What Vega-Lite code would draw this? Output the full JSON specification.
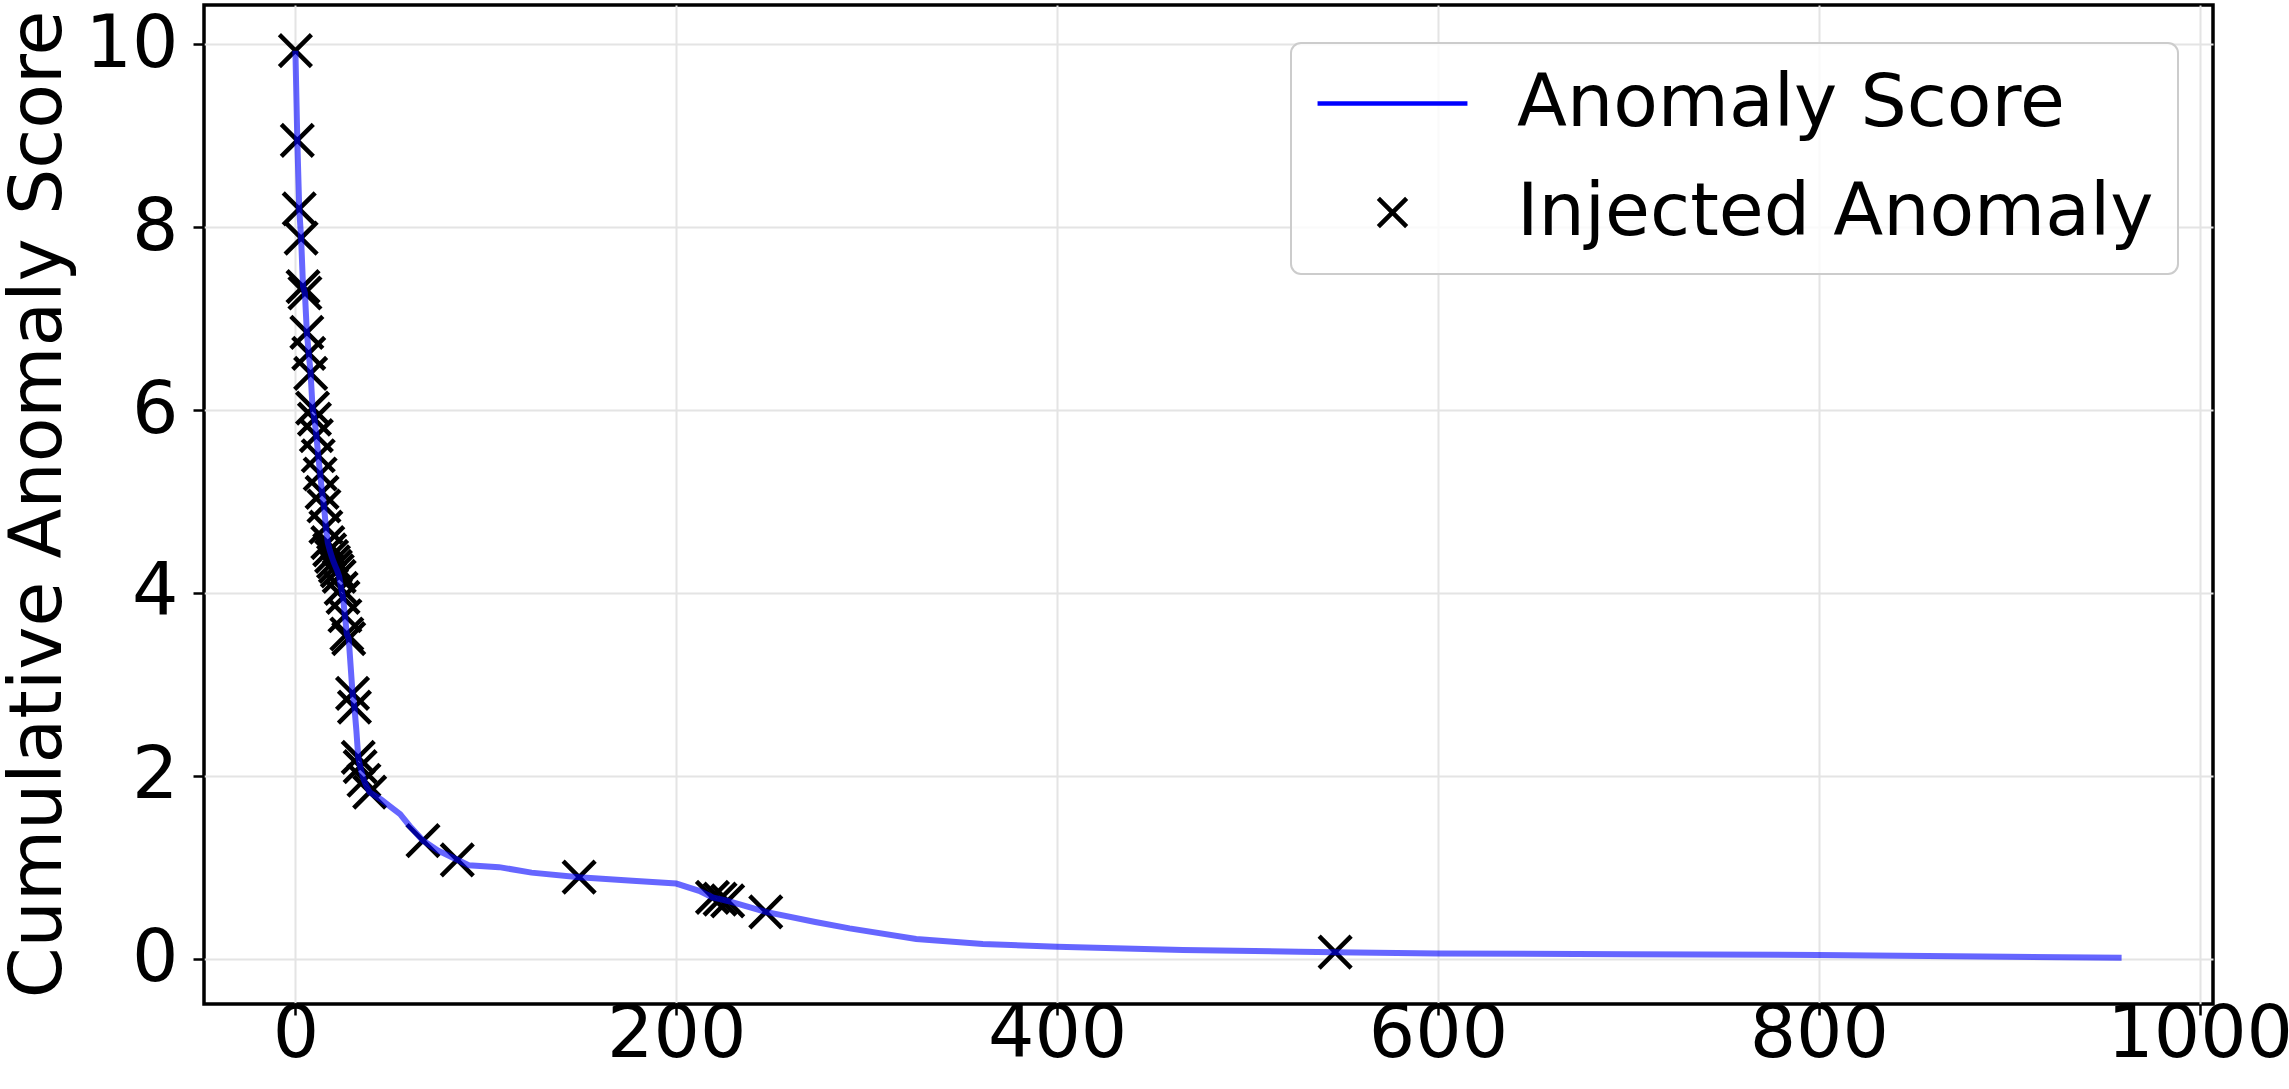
{
  "$schema": "https://vega.github.io/schema/vega-lite/v6.json",
  "width": 2009,
  "height": 999,
  "autosize": {"type": "none"},
  "padding": {"left": 204, "top": 5, "right": 76, "bottom": 85},
  "background": "white",
  "config": {
    "font": "DejaVu Sans",
    "view": {"stroke": "black", "strokeWidth": 3.5},
    "axis": {
      "domain": false,
      "grid": true,
      "gridColor": "#e4e4e4",
      "gridWidth": 2,
      "tickColor": "black",
      "tickWidth": 2.5,
      "tickSize": 11,
      "labelFont": "DejaVu Sans",
      "labelFontSize": 73,
      "labelColor": "black",
      "labelLimit": 600,
      "labelOverlap": false,
      "labelFlush": false,
      "titleFont": "DejaVu Sans",
      "titleFontSize": 73,
      "titleFontWeight": "normal",
      "titleColor": "black"
    },
    "legend": {
      "orient": "none",
      "legendX": 1087,
      "legendY": 38,
      "padding": 24,
      "fillColor": "rgba(255,255,255,0.8)",
      "strokeColor": "#cccccc",
      "strokeWidth": 2,
      "cornerRadius": 10,
      "labelFont": "DejaVu Sans",
      "labelFontSize": 73,
      "labelColor": "black",
      "labelLimit": 1000,
      "symbolSize": 800,
      "symbolStrokeWidth": 4.5,
      "symbolOffset": 41,
      "labelOffset": 88,
      "rowPadding": 35
    }
  },
  "datasets": {
    "scores": [
      {"rank": 0, "score": 9.93, "series": "Anomaly Score"},
      {"rank": 1, "score": 8.95, "series": "Anomaly Score"},
      {"rank": 2, "score": 8.2, "series": "Anomaly Score"},
      {"rank": 3, "score": 7.88, "series": "Anomaly Score"},
      {"rank": 4, "score": 7.35, "series": "Anomaly Score"},
      {"rank": 5, "score": 7.28, "series": "Anomaly Score"},
      {"rank": 6, "score": 6.85, "series": "Anomaly Score"},
      {"rank": 7, "score": 6.62, "series": "Anomaly Score"},
      {"rank": 8, "score": 6.4, "series": "Anomaly Score"},
      {"rank": 9, "score": 6.02, "series": "Anomaly Score"},
      {"rank": 10, "score": 5.9, "series": "Anomaly Score"},
      {"rank": 11, "score": 5.72, "series": "Anomaly Score"},
      {"rank": 12, "score": 5.5, "series": "Anomaly Score"},
      {"rank": 13, "score": 5.3, "series": "Anomaly Score"},
      {"rank": 14, "score": 5.1, "series": "Anomaly Score"},
      {"rank": 15, "score": 4.95, "series": "Anomaly Score"},
      {"rank": 16, "score": 4.72, "series": "Anomaly Score"},
      {"rank": 17, "score": 4.55, "series": "Anomaly Score"},
      {"rank": 18, "score": 4.47, "series": "Anomaly Score"},
      {"rank": 19, "score": 4.4, "series": "Anomaly Score"},
      {"rank": 20, "score": 4.34, "series": "Anomaly Score"},
      {"rank": 21, "score": 4.29, "series": "Anomaly Score"},
      {"rank": 22, "score": 4.24, "series": "Anomaly Score"},
      {"rank": 23, "score": 4.18, "series": "Anomaly Score"},
      {"rank": 24, "score": 4.05, "series": "Anomaly Score"},
      {"rank": 25, "score": 3.95, "series": "Anomaly Score"},
      {"rank": 26, "score": 3.75, "series": "Anomaly Score"},
      {"rank": 27, "score": 3.55, "series": "Anomaly Score"},
      {"rank": 28, "score": 3.5, "series": "Anomaly Score"},
      {"rank": 29, "score": 3.2, "series": "Anomaly Score"},
      {"rank": 30, "score": 2.9, "series": "Anomaly Score"},
      {"rank": 31, "score": 2.75, "series": "Anomaly Score"},
      {"rank": 32, "score": 2.5, "series": "Anomaly Score"},
      {"rank": 33, "score": 2.2, "series": "Anomaly Score"},
      {"rank": 34, "score": 2.1, "series": "Anomaly Score"},
      {"rank": 35, "score": 2.02, "series": "Anomaly Score"},
      {"rank": 36, "score": 1.95, "series": "Anomaly Score"},
      {"rank": 37, "score": 1.9, "series": "Anomaly Score"},
      {"rank": 38, "score": 1.86, "series": "Anomaly Score"},
      {"rank": 39, "score": 1.82, "series": "Anomaly Score"},
      {"rank": 45, "score": 1.74, "series": "Anomaly Score"},
      {"rank": 50, "score": 1.66, "series": "Anomaly Score"},
      {"rank": 55, "score": 1.58, "series": "Anomaly Score"},
      {"rank": 60, "score": 1.45, "series": "Anomaly Score"},
      {"rank": 67, "score": 1.29, "series": "Anomaly Score"},
      {"rank": 75, "score": 1.18, "series": "Anomaly Score"},
      {"rank": 85, "score": 1.08, "series": "Anomaly Score"},
      {"rank": 91, "score": 1.02, "series": "Anomaly Score"},
      {"rank": 107, "score": 1.0, "series": "Anomaly Score"},
      {"rank": 124, "score": 0.94, "series": "Anomaly Score"},
      {"rank": 149, "score": 0.89, "series": "Anomaly Score"},
      {"rank": 177, "score": 0.85, "series": "Anomaly Score"},
      {"rank": 200, "score": 0.82, "series": "Anomaly Score"},
      {"rank": 212, "score": 0.74, "series": "Anomaly Score"},
      {"rank": 219, "score": 0.67, "series": "Anomaly Score"},
      {"rank": 223, "score": 0.65, "series": "Anomaly Score"},
      {"rank": 227, "score": 0.63, "series": "Anomaly Score"},
      {"rank": 247, "score": 0.51, "series": "Anomaly Score"},
      {"rank": 273, "score": 0.4, "series": "Anomaly Score"},
      {"rank": 291, "score": 0.33, "series": "Anomaly Score"},
      {"rank": 326, "score": 0.215, "series": "Anomaly Score"},
      {"rank": 361, "score": 0.16, "series": "Anomaly Score"},
      {"rank": 400, "score": 0.13, "series": "Anomaly Score"},
      {"rank": 466, "score": 0.095, "series": "Anomaly Score"},
      {"rank": 527, "score": 0.075, "series": "Anomaly Score"},
      {"rank": 546, "score": 0.07, "series": "Anomaly Score"},
      {"rank": 600, "score": 0.055, "series": "Anomaly Score"},
      {"rank": 700, "score": 0.048, "series": "Anomaly Score"},
      {"rank": 800, "score": 0.04, "series": "Anomaly Score"},
      {"rank": 900, "score": 0.02, "series": "Anomaly Score"},
      {"rank": 959, "score": 0.01, "series": "Anomaly Score"}
    ],
    "injected": [
      {"rank": 0, "score": 9.93, "series": "Injected Anomaly"},
      {"rank": 1, "score": 8.95, "series": "Injected Anomaly"},
      {"rank": 2, "score": 8.2, "series": "Injected Anomaly"},
      {"rank": 3, "score": 7.88, "series": "Injected Anomaly"},
      {"rank": 4, "score": 7.35, "series": "Injected Anomaly"},
      {"rank": 5, "score": 7.28, "series": "Injected Anomaly"},
      {"rank": 6, "score": 6.85, "series": "Injected Anomaly"},
      {"rank": 7, "score": 6.62, "series": "Injected Anomaly"},
      {"rank": 8, "score": 6.4, "series": "Injected Anomaly"},
      {"rank": 9, "score": 6.02, "series": "Injected Anomaly"},
      {"rank": 10, "score": 5.9, "series": "Injected Anomaly"},
      {"rank": 11, "score": 5.72, "series": "Injected Anomaly"},
      {"rank": 12, "score": 5.5, "series": "Injected Anomaly"},
      {"rank": 13, "score": 5.3, "series": "Injected Anomaly"},
      {"rank": 14, "score": 5.1, "series": "Injected Anomaly"},
      {"rank": 15, "score": 4.95, "series": "Injected Anomaly"},
      {"rank": 16, "score": 4.72, "series": "Injected Anomaly"},
      {"rank": 17, "score": 4.55, "series": "Injected Anomaly"},
      {"rank": 18, "score": 4.47, "series": "Injected Anomaly"},
      {"rank": 19, "score": 4.4, "series": "Injected Anomaly"},
      {"rank": 20, "score": 4.34, "series": "Injected Anomaly"},
      {"rank": 21, "score": 4.29, "series": "Injected Anomaly"},
      {"rank": 22, "score": 4.24, "series": "Injected Anomaly"},
      {"rank": 23, "score": 4.18, "series": "Injected Anomaly"},
      {"rank": 24, "score": 4.05, "series": "Injected Anomaly"},
      {"rank": 25, "score": 3.95, "series": "Injected Anomaly"},
      {"rank": 26, "score": 3.75, "series": "Injected Anomaly"},
      {"rank": 27, "score": 3.55, "series": "Injected Anomaly"},
      {"rank": 28, "score": 3.5, "series": "Injected Anomaly"},
      {"rank": 30, "score": 2.9, "series": "Injected Anomaly"},
      {"rank": 31, "score": 2.75, "series": "Injected Anomaly"},
      {"rank": 33, "score": 2.2, "series": "Injected Anomaly"},
      {"rank": 34, "score": 2.1, "series": "Injected Anomaly"},
      {"rank": 36, "score": 1.95, "series": "Injected Anomaly"},
      {"rank": 39, "score": 1.82, "series": "Injected Anomaly"},
      {"rank": 67, "score": 1.29, "series": "Injected Anomaly"},
      {"rank": 85, "score": 1.08, "series": "Injected Anomaly"},
      {"rank": 149, "score": 0.89, "series": "Injected Anomaly"},
      {"rank": 219, "score": 0.67, "series": "Injected Anomaly"},
      {"rank": 223, "score": 0.65, "series": "Injected Anomaly"},
      {"rank": 227, "score": 0.63, "series": "Injected Anomaly"},
      {"rank": 247, "score": 0.51, "series": "Injected Anomaly"},
      {"rank": 546, "score": 0.07, "series": "Injected Anomaly"}
    ]
  },
  "encoding": {
    "x": {
      "field": "rank",
      "type": "quantitative",
      "scale": {"domain": [-48, 1007], "nice": false, "zero": false},
      "axis": {
        "title": null,
        "values": [0, 200, 400, 600, 800, 1000],
        "format": "d",
        "labelPadding": 41,
        "labelBaseline": "alphabetic"
      }
    },
    "y": {
      "field": "score",
      "type": "quantitative",
      "scale": {"domain": [-0.497, 10.43], "nice": false, "zero": false},
      "axis": {
        "title": "Cumulative Anomaly Score",
        "values": [0, 2, 4, 6, 8, 10],
        "format": "d",
        "labelPadding": 15,
        "titleX": -144,
        "titleY": 499,
        "titleAngle": -90,
        "titleAlign": "center",
        "titleBaseline": "alphabetic"
      }
    },
    "color": {
      "field": "series",
      "type": "nominal",
      "scale": {"domain": ["Anomaly Score", "Injected Anomaly"], "range": ["#0000ff", "#000000"]},
      "legend": {
        "title": null,
        "encode": {
          "symbols": {
            "update": {
              "fill": {"value": "transparent"},
              "stroke": {"signal": "datum.value === 'Anomaly Score' ? '#0000ff' : '#000000'"},
              "opacity": {"signal": "datum.value === 'Anomaly Score' ? 0.6 : 1"},
              "strokeWidth": {"signal": "datum.value === 'Anomaly Score' ? 5.5 : 3.5"},
              "size": {"value": 800}
            }
          }
        }
      }
    }
  },
  "layer": [
    {
      "data": {"name": "injected"},
      "mark": {"type": "point", "filled": false, "strokeWidth": 4.5, "size": 1024, "opacity": 1},
      "encoding": {
        "shape": {
          "field": "series",
          "type": "nominal",
          "scale": {"domain": ["Anomaly Score", "Injected Anomaly"], "range": ["M-5.3,0L5.3,0", "M-1,-1L1,1M1,-1L-1,1"]},
          "legend": {"title": null}
        }
      }
    },
    {
      "data": {"name": "scores"},
      "mark": {"type": "line", "strokeWidth": 6, "opacity": 0.6}
    }
  ]
}
